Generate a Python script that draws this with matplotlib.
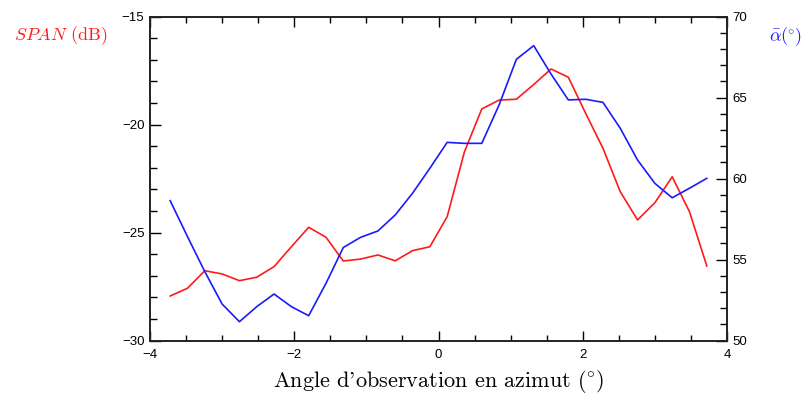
import matplotlib
matplotlib.use("Agg")
import matplotlib.pyplot as plt
from matplotlib.ticker import MultipleLocator
import numpy as np

plt.rcParams['mathtext.fontset'] = 'cm'

# azimuth angles (degrees)
angles = [-3.72, -3.48, -3.24, -3.00, -2.76, -2.52, -2.28, -2.04, -1.80, -1.56,
          -1.32, -1.08, -0.84, -0.60, -0.36, -0.12, 0.12, 0.36, 0.60, 0.84,
          1.08, 1.32, 1.56, 1.80, 2.04, 2.28, 2.52, 2.76, 3.00, 3.24, 3.48, 3.72]

span_db = [-27.94, -27.58, -26.77, -26.92, -27.23, -27.07, -26.58, -25.66, -24.76, -25.22,
           -26.32, -26.23, -26.04, -26.31, -25.84, -25.66, -24.27, -21.26, -19.28, -18.87,
           -18.83, -18.15, -17.43, -17.81, -19.48, -21.10, -23.11, -24.42, -23.62, -22.42,
           -24.04, -26.55]

alpha_mean = [58.63, 56.41, 54.25, 52.25, 51.16, 52.09, 52.87, 52.09, 51.53, 53.53,
              55.74, 56.37, 56.76, 57.75, 59.09, 60.63, 62.23, 62.17, 62.17, 64.54,
              67.36, 68.20, 66.45, 64.85, 64.89, 64.70, 63.10, 61.14, 59.70, 58.81,
              59.40, 60.01]

x_ticks = [-4, -2, 0, 2, 4]
left_ticks = [-30, -25, -20, -15]
right_ticks = [50, 55, 60, 65, 70]

fig = plt.figure(figsize=(8.08, 4.03), dpi=100)
ax = fig.add_axes([150/808, 62.5/403, 577/808, 324/403])
ax2 = ax.twinx()

ax.plot(angles, span_db, color='#ff1a1a', lw=1.2)
ax2.plot(angles, alpha_mean, color='#1a1aff', lw=1.2)

ax.set_xlim(-4, 4)
ax.set_ylim(-30, -15)
ax2.set_ylim(50, 70)

ax.set_xticks(x_ticks)
ax.set_yticks(left_ticks)
ax2.set_yticks(right_ticks)
ax.xaxis.set_minor_locator(MultipleLocator(0.5))
ax.yaxis.set_minor_locator(MultipleLocator(1))
ax2.yaxis.set_minor_locator(MultipleLocator(1))

tick_font = dict(family='Liberation Sans', size=9.5)
ax.set_xticklabels([str(v).replace('-', '\u2212') for v in x_ticks], **tick_font)
ax.set_yticklabels([str(v).replace('-', '\u2212') for v in left_ticks], **tick_font)
ax2.set_yticklabels([str(v) for v in right_ticks], **tick_font)

ax.tick_params(axis='x', which='both', direction='in', top=True, bottom=True, pad=6)
ax.tick_params(axis='x', which='major', length=7, width=1.0)
ax.tick_params(axis='x', which='minor', length=4, width=1.0)
ax.tick_params(axis='y', which='major', direction='in', length=8, width=1.0, pad=4)
ax.tick_params(axis='y', which='minor', direction='in', length=5, width=1.0)
ax2.tick_params(axis='y', which='major', direction='in', length=8, width=1.0, pad=4)
ax2.tick_params(axis='y', which='minor', direction='in', length=5, width=1.0)

for a in (ax, ax2):
    for s in a.spines.values():
        s.set_linewidth(1.2)
        s.set_color('#222222')

ax.set_xlabel("Angle d'observation en azimut $(\\!^\\circ\\!)$",
              fontsize=16, family=['cmr10', 'DejaVu Serif'], labelpad=5)

fig.text(61/808, 1 - 36/403, r'$SPAN$ (dB)', color='#ff1a1a', fontsize=13,
         family=['cmr10', 'DejaVu Serif'], ha='center', va='center')
fig.text(786/808, 1 - 37/403, r'$\bar{\alpha}(\!^\circ\!)$', color='#1a1aff', fontsize=13,
         ha='center', va='center')

fig.savefig('out.png', dpi=100)
